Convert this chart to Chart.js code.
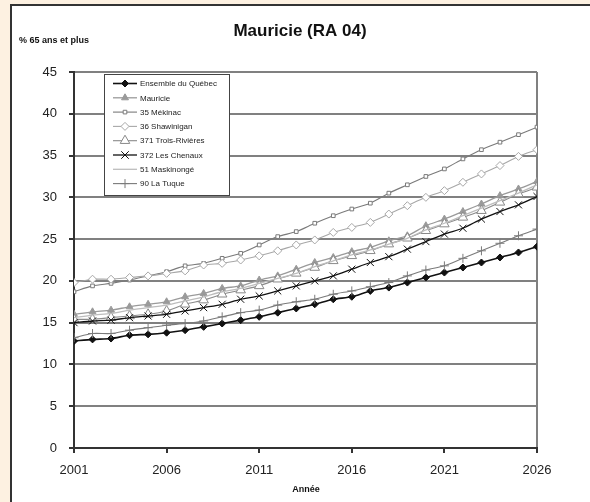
<!DOCTYPE html>
<html>
<head>
<meta charset="utf-8">
<script src="https://cdn.jsdelivr.net/npm/chart.js@4.4.1/dist/chart.umd.min.js"></script>
<style>
html,body{margin:0;padding:0;background:#fdf1e1;}
#wrap{width:590px;height:502px;position:relative;}
</style>
</head>
<body>
<div id="wrap"><canvas id="c" width="590" height="502"></canvas></div>
<script>
const years = [2001,2002,2003,2004,2005,2006,2007,2008,2009,2010,2011,2012,2013,2014,2015,2016,2017,2018,2019,2020,2021,2022,2023,2024,2025,2026];
const seriesNames = ["Ensemble du Québec","Mauricie","35 Mékinac","36 Shawinigan","371 Trois-Rivières","372 Les Chenaux","51 Maskinongé","90 La Tuque"];
const ensembleQuebec = [12.8,13.0,13.1,13.5,13.6,13.8,14.1,14.5,14.9,15.3,15.7,16.2,16.7,17.2,17.8,18.1,18.8,19.2,19.8,20.4,21.0,21.6,22.2,22.8,23.4,24.1];
const mauricie = [16.0,16.3,16.5,16.9,17.2,17.5,18.1,18.5,19.1,19.4,20.1,20.6,21.4,22.2,22.8,23.5,24.0,24.8,25.4,26.6,27.4,28.3,29.2,30.2,31.0,31.9];
const mekinac = [18.7,19.4,19.7,20.1,20.6,21.1,21.8,22.1,22.7,23.3,24.3,25.3,25.9,26.9,27.8,28.6,29.3,30.5,31.5,32.5,33.4,34.6,35.7,36.6,37.5,38.4];
const shawinigan = [19.8,20.2,20.2,20.4,20.6,20.9,21.2,21.9,22.1,22.5,23.0,23.6,24.3,24.9,25.8,26.4,27.0,28.0,29.0,30.0,30.8,31.8,32.8,33.8,34.9,35.7];
const troisRivieres = [15.4,15.4,15.6,15.8,16.0,16.4,17.2,17.7,18.4,18.9,19.4,20.2,20.9,21.6,22.4,23.0,23.6,24.4,25.1,26.0,26.8,27.6,28.4,29.4,30.4,31.2];
const lesChenaux = [15.0,15.2,15.3,15.6,15.8,16.0,16.4,16.8,17.2,17.8,18.2,18.8,19.4,20.0,20.6,21.4,22.2,22.9,23.8,24.7,25.6,26.3,27.4,28.3,29.1,30.1];
const maskinonge = [15.6,15.9,16.1,16.5,16.8,17.1,17.6,18.1,18.7,19.1,19.7,20.3,20.9,21.7,22.4,23.1,23.7,24.4,25.1,26.1,26.9,27.8,28.7,29.6,30.5,31.5];
const laTuque = [13.2,13.7,13.7,14.1,14.4,14.7,14.9,15.2,15.7,16.2,16.5,17.1,17.5,17.8,18.4,18.8,19.3,19.8,20.6,21.3,21.8,22.7,23.6,24.5,25.4,26.2];
const yTicks = [0,5,10,15,20,25,30,35,40,45];
const xTicks = [2001,2006,2011,2016,2021,2026];

const seriesValues = [ensembleQuebec,mauricie,mekinac,shawinigan,troisRivieres,lesChenaux,maskinonge,laTuque];
const styles = [
  {line:'#111', fill:'#111', pt:'rectRot', r:3.5, w:1.6},
  {line:'#9a9a9a', fill:'#9a9a9a', pt:'triangle', r:4, w:1.3},
  {line:'#7a7a7a', fill:'#fff', pt:'rect', r:2.6, w:1.1},
  {line:'#a8a8a8', fill:'#fff', pt:'rectRot', r:4, w:1.1},
  {line:'#8a8a8a', fill:'#fff', pt:'triangle', r:5.5, w:1.1},
  {line:'#111', fill:'#111', pt:'crossRot', r:5, w:1.3},
  {line:'#bdbdbd', fill:'#bdbdbd', pt:false, r:0, w:1.3},
  {line:'#7a7a7a', fill:'#7a7a7a', pt:'cross', r:4.5, w:1.1}
];

const datasets = seriesNames.map((name,i)=>({
  label: name,
  data: years.map((y,j)=>({x:y, y:seriesValues[i][j]})),
  borderColor: styles[i].line,
  backgroundColor: styles[i].fill,
  pointBorderColor: styles[i].line,
  pointBackgroundColor: styles[i].fill,
  pointStyle: styles[i].pt,
  pointRadius: styles[i].r,
  pointBorderWidth: 1,
  borderWidth: styles[i].w,
  tension: 0.25,
  order: 8 - i
}));

function drawMarker(ctx, style, r, x, y, stroke, fill){
  if(!style) return;
  ctx.save();
  ctx.lineWidth = 1; ctx.strokeStyle = stroke; ctx.fillStyle = fill;
  ctx.beginPath();
  if(style==='rectRot'){
    ctx.moveTo(x, y-r); ctx.lineTo(x+r, y); ctx.lineTo(x, y+r); ctx.lineTo(x-r, y); ctx.closePath();
    ctx.fill(); ctx.stroke();
  } else if(style==='triangle'){
    ctx.moveTo(x, y-r); ctx.lineTo(x+r*0.87, y+r*0.5); ctx.lineTo(x-r*0.87, y+r*0.5); ctx.closePath();
    ctx.fill(); ctx.stroke();
  } else if(style==='rect'){
    ctx.rect(x-r*0.7, y-r*0.7, r*1.4, r*1.4); ctx.fill(); ctx.stroke();
  } else if(style==='crossRot'){
    const d = r*0.75;
    ctx.moveTo(x-d,y-d); ctx.lineTo(x+d,y+d); ctx.moveTo(x+d,y-d); ctx.lineTo(x-d,y+d); ctx.stroke();
  } else if(style==='cross'){
    ctx.moveTo(x-r,y); ctx.lineTo(x+r,y); ctx.moveTo(x,y-r); ctx.lineTo(x,y+r); ctx.stroke();
  }
  ctx.restore();
}

const decor = {
  id:'decor',
  beforeDraw(chart){
    const ctx = chart.ctx;
    ctx.save();
    ctx.fillStyle = '#fdf1e1';
    ctx.fillRect(0,0,590,502);
    ctx.fillStyle = '#ffffff';
    ctx.fillRect(11,5,579,497);
    ctx.strokeStyle = '#333';
    ctx.lineWidth = 2;
    ctx.beginPath();
    ctx.moveTo(11,503); ctx.lineTo(11,5); ctx.lineTo(592,5);
    ctx.stroke();
    ctx.restore();
  },
  afterDraw(chart){
    const ctx = chart.ctx;
    ctx.save();
    ctx.fillStyle = '#111';
    ctx.font = 'bold 17px "Liberation Sans", Arial, sans-serif';
    ctx.textAlign = 'center'; ctx.textBaseline = 'middle';
    ctx.fillText('Mauricie (RA 04)', 300, 31);
    ctx.font = 'bold 9px "Liberation Sans", Arial, sans-serif';
    ctx.textAlign = 'left';
    ctx.fillText('% 65 ans et plus', 19, 41);
    ctx.textAlign = 'center';
    ctx.fillText('Année', 306, 490);

    // legend
    const lx = 104, ly = 74, lw = 125, lh = 121;
    ctx.fillStyle = '#fff';
    ctx.fillRect(lx, ly, lw, lh);
    ctx.strokeStyle = '#444'; ctx.lineWidth = 1;
    ctx.strokeRect(lx+0.5, ly+0.5, lw, lh);
    ctx.font = '8px "Liberation Sans", Arial, sans-serif';
    ctx.textAlign = 'left'; ctx.textBaseline = 'middle';
    chart.data.datasets.forEach((ds,i)=>{
      const y = ly + 9.5 + i*14.3;
      ctx.strokeStyle = ds.borderColor; ctx.lineWidth = ds.borderWidth;
      ctx.beginPath(); ctx.moveTo(lx+9, y); ctx.lineTo(lx+33, y); ctx.stroke();
      drawMarker(ctx, ds.pointStyle, ds.pointRadius, lx+21, y, ds.pointBorderColor, ds.pointBackgroundColor);
      ctx.fillStyle = '#222';
      ctx.fillText(ds.label, lx+36, y+0.5);
    });
    ctx.restore();
  }
};

new Chart(document.getElementById('c'), {
  type:'line',
  data:{datasets},
  plugins:[decor],
  options:{
    responsive:false,
    animation:false,
    devicePixelRatio:1,
    layout:{padding:{left:10,right:53,top:72,bottom:14}},
    plugins:{legend:{display:false}, title:{display:false}, tooltip:{enabled:false}},
    scales:{
      x:{
        type:'linear', min:2001, max:2026,
        afterBuildTicks(scale){ scale.ticks = xTicks.map(v=>({value:v})); },
        afterFit(scale){ scale.height = 40; },
        ticks:{color:'#222', font:{family:'"Liberation Sans", Arial, sans-serif', size:13}, padding:10, maxRotation:0, autoSkip:false, callback:v=>String(v)},
        grid:{color:ctx=> (ctx.tick && ctx.tick.value===2026) ? '#808080' : 'rgba(0,0,0,0)', lineWidth:2, tickColor:'#333', tickLength:5, drawTicks:true},
        border:{color:'#333', width:2}
      },
      y:{
        min:0, max:45,
        afterBuildTicks(scale){ scale.ticks = yTicks.map(v=>({value:v})); },
        afterFit(scale){ scale.width = 64; },
        ticks:{color:'#222', font:{family:'"Liberation Sans", Arial, sans-serif', size:13}, padding:12},
        grid:{color:'#808080', lineWidth:2, tickColor:'#333', tickLength:5},
        border:{color:'#333', width:2}
      }
    }
  }
});
</script>
</body>
</html>
